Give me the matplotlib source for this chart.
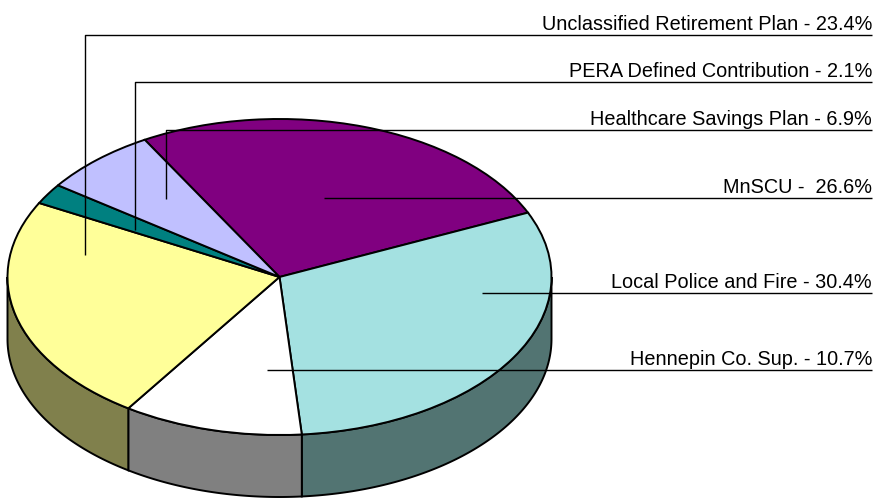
import matplotlib
matplotlib.use("Agg")
import matplotlib.pyplot as plt
import numpy as np
from matplotlib.transforms import Affine2D
from matplotlib.patches import Polygon

# ---- data ----
labels = ["MnSCU", "Local Police and Fire", "Hennepin Co. Sup.",
          "Unclassified Retirement Plan", "PERA Defined Contribution",
          "Healthcare Savings Plan"]
values = [26.6, 30.4, 10.7, 23.4, 2.1, 6.9]
label_texts = ["MnSCU -  26.6%", "Local Police and Fire - 30.4%",
               "Hennepin Co. Sup. - 10.7%", "Unclassified Retirement Plan - 23.4%",
               "PERA Defined Contribution - 2.1%", "Healthcare Savings Plan - 6.9%"]
top_colors = ["#800080", "#A4E1E1", "#FFFFFF", "#FFFF99", "#008080", "#C0C0FF"]
side_colors = ["#400040", "#527472", "#808080", "#80804C", "#004040", "#606080"]

W, H = 881, 498
fig = plt.figure(figsize=(W / 100, H / 100), dpi=100)
ax = fig.add_axes([0, 0, 1, 1])

def Y(py):
    return H - py

cx, cy = 279.5, Y(277)
rx, ry = 272.0, 158.0
depth = 62.0

wedges, _ = ax.pie(values, colors=top_colors, startangle=119.7, counterclock=False,
                   center=(cx, cy), radius=rx,
                   wedgeprops=dict(edgecolor="black", linewidth=1.4))
squash = Affine2D().translate(-cx, -cy).scale(1, ry / rx).translate(cx, cy) + ax.transData
for w in wedges:
    w.set_transform(squash)
    w.set_zorder(3)

# side walls (front half of the cylinder: angles -180..0)
for w, sc in zip(wedges, side_colors):
    t1, t2 = w.theta1, w.theta2
    for k in (-1, 0, 1):
        lo = max(t1, -180 + 360 * k)
        hi = min(t2, 0 + 360 * k)
        if hi > lo:
            a = np.radians(np.linspace(lo, hi, 120))
            xs = cx + rx * np.cos(a)
            ys = cy + ry * np.sin(a)
            pts = np.column_stack([np.r_[xs, xs[::-1]],
                                   np.r_[ys, (ys - depth)[::-1]]])
            ax.add_patch(Polygon(pts, closed=True, facecolor=sc, edgecolor="black",
                                 linewidth=1.4, zorder=2))

# leader lines & labels (pixel positions)
text_x = 872
leaders = {
    "Unclassified Retirement Plan": [(85, 255), (85, 35), (text_x, 35)],
    "PERA Defined Contribution": [(135, 230), (135, 82), (text_x, 82)],
    "Healthcare Savings Plan": [(166, 199), (166, 130), (text_x, 130)],
    "MnSCU": [(324, 198), (text_x, 198)],
    "Local Police and Fire": [(482, 293), (text_x, 293)],
    "Hennepin Co. Sup.": [(267, 370), (text_x, 370)],
}
for lab, txt in zip(labels, label_texts):
    pts = leaders[lab]
    ax.plot([p[0] for p in pts], [Y(p[1]) for p in pts], color="black",
            linewidth=1.0, zorder=5, solid_capstyle="butt")
    ly = pts[-1][1]
    ax.text(text_x, Y(ly - 5), txt, ha="right", va="baseline",
            fontsize=14.3, family=["Liberation Sans", "DejaVu Sans"], zorder=6)

ax.set_xlim(0, W)
ax.set_ylim(0, H)
ax.set_aspect("auto")
ax.axis("off")
fig.savefig("out.png", dpi=100)
